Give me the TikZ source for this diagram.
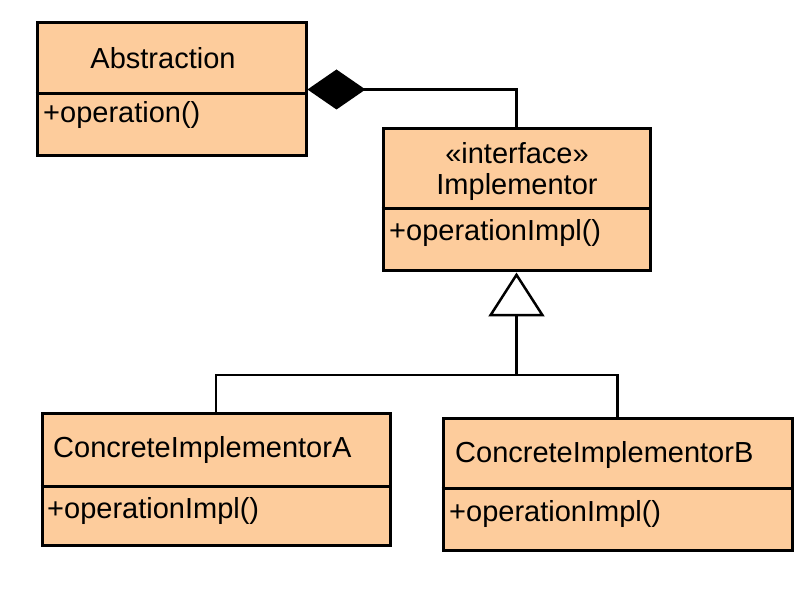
\documentclass[tikz,border=0pt]{standalone}
\usepackage{fontspec}
\setmainfont{Liberation Sans}
\usetikzlibrary{arrows.meta}
\definecolor{boxfill}{RGB}{253,204,156}
\tikzset{
  umlbox/.style={draw=black, fill=boxfill, line width=3pt, rectangle, inner sep=0pt},
  divider/.style={line width=3pt},
  lbl/.style={inner sep=0pt, font=\fontsize{29}{33}\selectfont},
  conn/.style={line width=2.5pt},
}
\begin{document}
\begin{tikzpicture}[x=1pt,y=-1pt]
\useasboundingbox (0,0) rectangle (812,596);
% boxes
\node[umlbox, minimum width=269pt, minimum height=133pt] (abs) at (171.5,89.5) {};
\node[umlbox, minimum width=267pt, minimum height=142pt] (impl) at (516.5,200) {};
\node[umlbox, minimum width=348pt, minimum height=132pt] (ca) at (216,479) {};
\node[umlbox, minimum width=349pt, minimum height=132pt] (cb) at (617.5,484) {};
% dividers
\draw[divider] (abs.west |- 0,94) -- (abs.east |- 0,94);
\draw[divider] (impl.west |- 0,209) -- (impl.east |- 0,209);
\draw[divider] (ca.west |- 0,486) -- (ca.east |- 0,486);
\draw[divider] (cb.west |- 0,488) -- (cb.east |- 0,488);
% texts
\node[lbl] (absT) at (163,58) {Abstraction};
\node[lbl, anchor=west] (absO) at (43,115) {+operation()};
\node[lbl] (implS) at (517,153) {«interface»};
\node[lbl] (implT) at (517,187) {Implementor};
\node[lbl, anchor=west] (implO) at (389,233) {+operationImpl()};
\node[lbl, anchor=west] (caT) at (53,450) {ConcreteImplementorA};
\node[lbl, anchor=west] (caO) at (47,511) {+operationImpl()};
\node[lbl, anchor=west] (cbT) at (455,455) {ConcreteImplementorB};
\node[lbl, anchor=west] (cbO) at (449,514) {+operationImpl()};
% composition
\draw[conn, -{Diamond[length=58pt, width=40pt]}] (impl.north) |- (abs.east);
% generalization
\coordinate (junc) at (516.5,375);
\draw[conn] (ca.north) |- (junc) -| (cb.north);
\draw[conn, -{Triangle[open, length=44pt, width=56pt]}] (junc) -- (impl.south);
\end{tikzpicture}
\end{document}
